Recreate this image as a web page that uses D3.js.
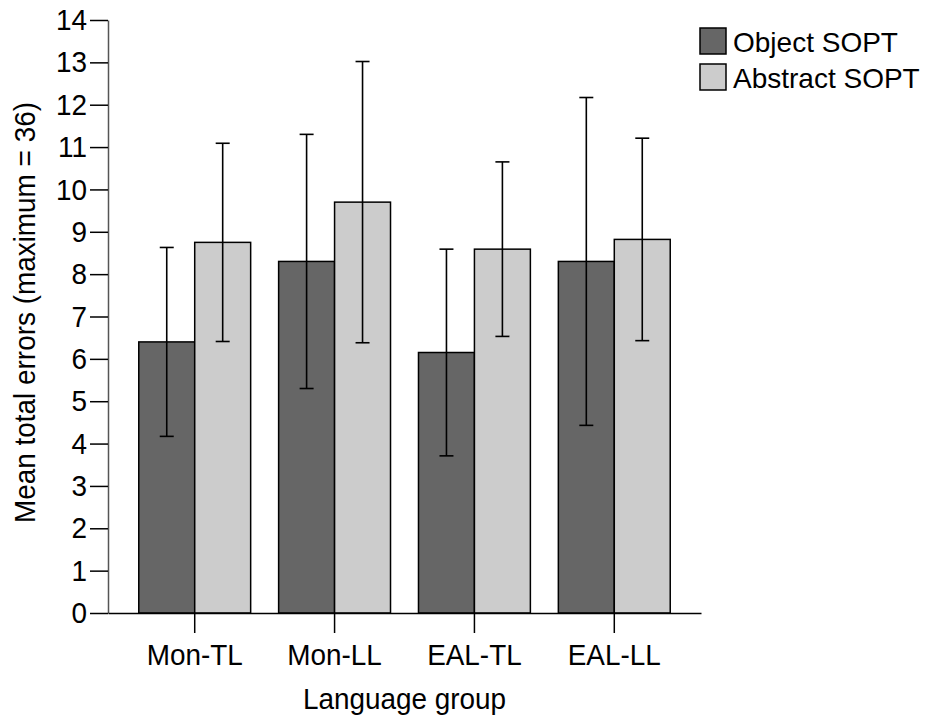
<!DOCTYPE html>
<html>
<head>
<meta charset="utf-8">
<script src="https://cdn.jsdelivr.net/npm/d3@7"></script>
<style>
  html, body { margin: 0; padding: 0; background: #fff; }
  svg { display: block; font-family: "Liberation Sans", Arial, sans-serif; }
</style>
</head>
<body>
<svg id="chart" width="930" height="717"></svg>
<script>
// Language groups on the x axis
const groups = ["Mon-TL", "Mon-LL", "EAL-TL", "EAL-LL"];
// Task series
const seriesNames = ["Object SOPT", "Abstract SOPT"];
const seriesColors = ["#666666", "#cccccc"];
// Mean total errors per group
const objectMeans = [6.40, 8.30, 6.15, 8.30];
const abstractMeans = [8.75, 9.70, 8.59, 8.82];
// Error bar half-widths
const objectErr = [2.23, 3.00, 2.44, 3.87];
const abstractErr = [2.34, 3.32, 2.06, 2.39];
// Y axis ticks
const yTicks = d3.range(0, 15);

const svg = d3.select("#chart");
const plotLeft = 108, plotRight = 701, plotTop = 20, plotBottom = 613;
const fontSize = 30;

const y = d3.scaleLinear().domain([0, 14]).range([plotBottom, plotTop]);
const x0 = d3.scaleBand().domain(groups).range([plotLeft, plotRight])
  .paddingInner(0.2).paddingOuter(0.22);
const x1 = d3.scaleBand().domain(seriesNames).range([0, x0.bandwidth()]);

const rows = groups.map((g, i) => ({
  group: g,
  values: [
    { s: seriesNames[0], v: objectMeans[i], e: objectErr[i], c: seriesColors[0] },
    { s: seriesNames[1], v: abstractMeans[i], e: abstractErr[i], c: seriesColors[1] }
  ]
}));

// Bars
const g = svg.append("g");
const grp = g.selectAll("g.grp").data(rows).join("g")
  .attr("class", "grp")
  .attr("transform", d => `translate(${x0(d.group)},0)`);

grp.selectAll("rect").data(d => d.values).join("rect")
  .attr("x", d => x1(d.s))
  .attr("y", d => y(d.v))
  .attr("width", x1.bandwidth())
  .attr("height", d => y(0) - y(d.v))
  .attr("fill", d => d.c)
  .attr("stroke", "#000")
  .attr("stroke-width", 1.5);

// Error bars
const cap = 7;
const eb = grp.selectAll("g.eb").data(d => d.values).join("g")
  .attr("class", "eb")
  .attr("transform", d => `translate(${x1(d.s) + x1.bandwidth() / 2},0)`);
eb.append("line")
  .attr("y1", d => y(d.v + d.e)).attr("y2", d => y(d.v - d.e))
  .attr("stroke", "#000").attr("stroke-width", 1.6);
eb.append("line")
  .attr("x1", -cap).attr("x2", cap)
  .attr("y1", d => y(d.v + d.e)).attr("y2", d => y(d.v + d.e))
  .attr("stroke", "#000").attr("stroke-width", 1.6);
eb.append("line")
  .attr("x1", -cap).attr("x2", cap)
  .attr("y1", d => y(d.v - d.e)).attr("y2", d => y(d.v - d.e))
  .attr("stroke", "#000").attr("stroke-width", 1.6);

// Y axis
const yAxis = svg.append("g")
  .attr("transform", `translate(${plotLeft},0)`)
  .call(d3.axisLeft(y).tickValues(yTicks).tickSize(18).tickPadding(3).tickSizeOuter(0));
yAxis.select(".domain").attr("stroke", "#555").attr("stroke-width", 1.5);
yAxis.selectAll(".tick line").attr("stroke", "#000").attr("stroke-width", 1.5);
yAxis.selectAll(".tick text").attr("font-size", fontSize).attr("fill", "#000")
  .attr("font-family", "Liberation Sans, Arial, sans-serif");

// X axis
const xAxis = svg.append("g")
  .attr("transform", `translate(0,${plotBottom})`)
  .call(d3.axisBottom(x0).tickSize(20).tickPadding(11).tickSizeOuter(0));
xAxis.select(".domain").attr("stroke", "#000").attr("stroke-width", 1.5);
xAxis.selectAll(".tick line").attr("stroke", "#000").attr("stroke-width", 1.5);
xAxis.selectAll(".tick text").attr("font-size", fontSize).attr("fill", "#000")
  .attr("font-family", "Liberation Sans, Arial, sans-serif");

// Axis titles
svg.append("text")
  .attr("x", (plotLeft + plotRight) / 2).attr("y", 709)
  .attr("text-anchor", "middle").attr("font-size", fontSize)
  .text("Language group");
svg.append("text")
  .attr("transform", `translate(35,${(plotTop + plotBottom) / 2 - 4}) rotate(-90)`)
  .attr("text-anchor", "middle").attr("font-size", fontSize)
  .text("Mean total errors (maximum = 36)");

// Slightly condensed lettering for axis texts
svg.selectAll("text").each(function () {
  const len = this.getComputedTextLength();
  this.setAttribute("textLength", len * 0.93);
  this.setAttribute("lengthAdjust", "spacingAndGlyphs");
});

// Legend
const legend = svg.append("g").attr("transform", "translate(700,28)");
const li = legend.selectAll("g").data(seriesNames).join("g")
  .attr("transform", (d, i) => `translate(0,${i * 36})`);
li.append("rect")
  .attr("width", 26).attr("height", 26)
  .attr("fill", (d, i) => seriesColors[i])
  .attr("stroke", "#000").attr("stroke-width", 1.5);
li.append("text")
  .attr("x", 33).attr("y", 24)
  .attr("font-size", 28)
  .text(d => d);
</script>
</body>
</html>
